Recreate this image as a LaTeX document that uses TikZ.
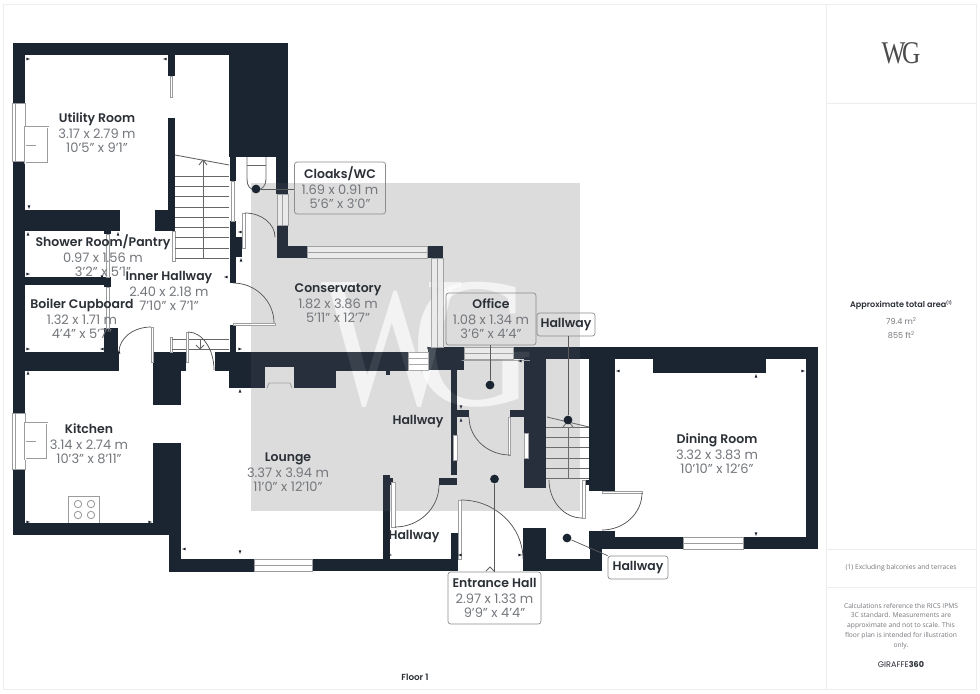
\documentclass[tikz,border=0pt]{standalone}
\usepackage{fontspec}
\setmainfont{Poppins}
\newfontfamily\namefont{Poppins SemiBold}
\newfontfamily\serifmark{Liberation Serif}
\newfontfamily\notefont{Open Sans}
\usetikzlibrary{calc}

\definecolor{walldark}{HTML}{1B2431}
\definecolor{namedark}{HTML}{2B2F36}
\definecolor{dimgrey}{HTML}{74777C}
\definecolor{fixgrey}{HTML}{9A9C9E}
\definecolor{framegrey}{HTML}{ECEDEF}
\definecolor{squaregrey}{HTML}{DBDBDB}

\tikzset{
	wall/.style = {fill = walldark},
	pane/.style = {draw = fixgrey, fill = white, line width = 0.4pt},
	shadedpane/.style = {pane, fill = squaregrey!60},
	fixture/.style = {draw = fixgrey, line width = 0.5pt},
	doorline/.style = {draw = black!70, line width = 0.4pt},
	roomlabel/.style = {align = center, text = dimgrey, font = \fontsize{7.4}{8.1}\selectfont, inner sep = 0pt},
	tagbox/.style = {roomlabel, draw = black!45, line width = 0.4pt, rounded corners = 1.5pt},
	leaddot/.style = {circle, fill = walldark, inner sep = 0pt, minimum size = 5pt},
	leader/.style = {draw = black!65, line width = 0.4pt},
	panelnote/.style = {align = center, text = dimgrey, font = \notefont\fontsize{3.8}{5.6}\selectfont, inner sep = 0pt},
	bigmark/.style = {white, font = \serifmark\fontsize{106}{106}\selectfont, inner sep = 0pt}
}
\newcommand{\roomname}[1]{{\color{namedark}\namefont\fontsize{7.1}{8.1}\selectfont #1}}
\newcommand{\swing}[3]{\draw[doorline] (#1) .. controls ($(#1)!.55!(#2)$) and ($(#3)!.55!(#2)$) .. (#3);}

\begin{document}
\begin{tikzpicture}[x = 0.02cm, y = -0.02cm]
	\useasboundingbox (0,0) rectangle (980,693);
	\fill [white] (0,0) rectangle (980,693);

	% sheet frame
	\draw [framegrey, line width = 0.5pt] (3,4) -- (976,4) -- (976,689) -- (3,689) -- cycle;
	\draw [framegrey, line width = 0.5pt] (826,4) -- (826,689);
	\draw [framegrey, line width = 0.5pt] (826,103) -- (976,103);
	\draw [framegrey, line width = 0.5pt] (826,549) -- (976,549);
	\draw [framegrey, line width = 0.5pt] (826,587) -- (976,587);

	% shaded square and watermark, under the walls
	\fill [squaregrey] (251,183) rectangle (580,511);
	\node [bigmark, opacity = 0.65] (markw) at (392,345) {\scalebox{0.8}[1]{W}};
	\node [bigmark, opacity = 0.65] (markg) at (473,345) {\scalebox{0.92}[1]{G}};

	% walls
	\foreach \xa/\ya/\xb/\yb in {12.5/43/288/55, 12.5/43/25/103, 12.5/161/25/413, 12.5/469/25/535,
		229/43/288/157, 276/157/288/194, 230/157/236/181, 277/225/288/258, 277/246/307/258, 427/246/443/258,
		25/210/120/231, 155/210/175/231, 168/118/175/231, 168/55/175/76, 104/231/111/234,
		25/277/110/285, 104/277/111/287, 104/328/118/352, 25/352/119/371,
		153/352/186/371, 153/371/181/405, 153/443/181/535, 25/523/181/535, 169/535/181/572, 169/559/254/572,
		312/559/458/571, 383/475/390/559, 390/478/393/485, 451/533/458/559,
		215/352/408/371, 229/371/336/388, 386/370/390/375,
		230/325/236/352, 230/221/236/283, 236/237/242/257,
		428/347/464/370, 451/370/457/475, 439/478/457/485,
		457/410/469/417, 510/410/524/417,
		513/347/818/359, 524/359/546/488, 589/359/615/491, 585/480/589/485, 653/359/766/373, 806/347/818/549,
		615/537/683/549, 743/537/818/549, 589/531/615/549, 590/531/602/571, 523/528/546/571, 546/559/602/571}
		\fill [wall] (\xa,\ya) rectangle (\xb,\yb);

	% windows and glazed panels
	\foreach \xa/\ya/\xb/\yb in {12.5/103/25/161, 12.5/413/25/469, 408/352/428/370, 254/559/312/571, 683/537/743/549,
		453/435/457/460, 524/433/528/458, 170/76/172/97, 106/234/109/277, 106/287/109/328, 231/181/234/221,
		172/231/175/261, 170/337/172/352}
		\draw [pane] (\xa,\ya) rectangle (\xb,\yb);
	\foreach \xa/\ya/\xb/\yb in {277/194/288/225, 307/246/427/258, 431/258/443/347, 464/347/513/359}
		\draw [shadedpane] (\xa,\ya) rectangle (\xb,\yb);
	\draw [fixture] (15.5,103) -- (15.5,161);
	\draw [fixture] (15.5,413) -- (15.5,469);
	\draw [fixture] (282.5,194) -- (282.5,225);
	\draw [fixture] (307,252) -- (427,252);
	\draw [fixture] (437,258) -- (437,347);
	\draw [fixture] (408,358) -- (428,358);
	\draw [fixture] (408,364) -- (428,364);
	\draw [fixture] (464,353) -- (513,353);
	\draw [fixture] (254,565) -- (312,565);
	\draw [fixture] (683,543) -- (743,543);
	\draw [fixture] (460,360) -- (530,360);

	% sinks and hob
	\draw [fixture, double, double distance = 0.5pt] (25,127) rectangle (48,163);
	\draw [fixture] (26,145) -- (36,145);
	\draw [fixture, double, double distance = 0.5pt] (25,423) rectangle (47,459);
	\draw [fixture] (26,441) -- (36,441);
	\draw [fixture] (68,523) -- (68,496) -- (99,496) -- (99,523);
	\foreach \x in {78,91}
		\foreach \y in {504,515}
			\draw [fixture] (\x,\y) circle [radius = 3.7];

	% fireplace
	\fill [squaregrey] (265,367) rectangle (294,388);
	\draw [fixture] (267,388) -- (269,383) -- (290,383) -- (292,388);

	% stairs
	\draw [fixture, black!60] (175,155) -- (229,165);
	\foreach \y in {176,186,196,207,217,227,237,248,258}
		\draw [fixture, black!60] (175,\y) -- (229,\y);
	\draw [fixture, black!60] (203,160) -- (203,258);
	\draw [fixture, black!60] (199,165) -- (203,160) -- (207,165);
	\draw [fixture, black!60] (547,417) -- (589,427);
	\foreach \y in {427,437,447,458,468,478}
		\draw [fixture, black!60] (546,\y) -- (589,\y);
	\draw [fixture, black!60] (568,427) -- (568,478);
	\draw [fixture, black!60] (563,427) -- (568,421) -- (573,427);

	% short flight by the kitchen door
	\draw [fixture, black!60] (172,339) -- (229,339);
	\draw [fixture, black!60] (172,349) -- (229,349);
	\draw [fixture, black!60] (200,339) -- (200,349);
	\draw [fixture, black!60] (196,345) -- (200,349) -- (204,345);

	% toilet
	\draw [fixture, black!60] (247,157) -- (247,179) .. controls (247,186) and (250,190) .. (256,190) .. controls (262,190) and (266,186) .. (266,179) -- (266,157);
	\draw [fixture, black!60] (247,165) -- (266,165);

	% doors
	\foreach \xa/\ya/\xb/\yb in {242/213/245/248, 233/323/275/325, 151/327/153/362, 186/332/188/362, 391/482/395/527,
		508/417/510/455, 458/500/461/559, 582/480/585/518, 602/491/642/493}
		\draw [pane] (\xa,\ya) rectangle (\xb,\yb);
	\swing{245,213}{275,213}{275,237}
	\swing{233,283}{274,283}{274,323}
	\swing{151,327}{119,327}{119,352}
	\swing{188,332}{214,332}{214,370}
	\swing{395,527}{439,527}{439,485}
	\swing{510,455}{469,455}{469,417}
	\swing{461,500}{523,500}{523,559}
	\swing{582,518}{549,518}{549,480}
	\swing{642,493}{642,530}{602,530}

	% dimension ticks
	\foreach \x/\y/\a in {28/59/0, 165/59/180, 29/207/90, 28/234/270, 118/234/270, 28/274/0, 102/277/90, 226/277/180,
		240/232/180, 241/260/270, 28/349/0, 102/349/180, 28/373/270, 240/349/0, 240/391/270, 28/522/0, 150/522/0,
		184/549/180, 240/552/90, 429/348/0, 461/361/0, 520/361/180, 461/407/90, 461/420/270, 460/555/180, 520/555/0,
		618/371/180, 803/371/0, 756/376/270, 756/534/90, 119/352/270, 390/555/0}
		\fill [walldark] ([shift = {(\a:2)}]\x,\y) -- ([shift = {(\a+140:2)}]\x,\y) -- ([shift = {(\a+220:2)}]\x,\y) -- cycle;
	\draw [fixture, black!60] (486,571) -- (490,567) -- (494,571);

	% faint veil and watermark over the walls
	\fill [white, opacity = 0.05] (251,183) rectangle (580,511);
	\node [bigmark, opacity = 0.09] (veilw) at (392,345) {\scalebox{0.8}[1]{W}};
	\node [bigmark, opacity = 0.09] (veilg) at (473,345) {\scalebox{0.92}[1]{G}};

	% room labels
	\node [roomlabel] (utility) at (97,133) {\roomname{Utility Room}\\[1pt]3.17 x 2.79 m\\10'5" x 9'1"};
	\node [roomlabel] (shower) at (103,256) {\roomname{Shower Room/Pantry}\\[1pt]0.97 x 1.56 m\\3'2" x 5'1"};
	\node [roomlabel] (innerhall) at (169,291) {\roomname{Inner Hallway}\\[1pt]2.40 x 2.18 m\\7'10" x 7'1"};
	\node [roomlabel] (boiler) at (82,318.5) {\roomname{Boiler Cupboard}\\[1pt]1.32 x 1.71 m\\4'4" x 5'7"};
	\node [roomlabel] (kitchen) at (89,443.5) {\roomname{Kitchen}\\[1pt]3.14 x 2.74 m\\10'3" x 8'11"};
	\node [roomlabel] (lounge) at (288,472) {\roomname{Lounge}\\[1pt]3.37 x 3.94 m\\11'0" x 12'10"};
	\node [roomlabel] (conservatory) at (338,303) {\roomname{Conservatory}\\[1pt]1.82 x 3.86 m\\5'11" x 12'7"};
	\node [roomlabel] (dining) at (717,454) {\roomname{Dining Room}\\[1pt]3.32 x 3.83 m\\10'10" x 12'6"};
	\node [roomlabel] (hallwayl) at (418,422) {\roomname{Hallway}};
	\node [roomlabel] (hallwayb) at (414,536.5) {\roomname{Hallway}};

	% tagged labels and their leaders
	\node [tagbox, minimum width = 91*0.02cm, minimum height = 52*0.02cm] (cloaks) at (340,188) {\roomname{Cloaks/WC}\\[1pt]1.69 x 0.91 m\\5'6" x 3'0"};
	\node [tagbox, minimum width = 90*0.02cm, minimum height = 52*0.02cm] (office) at (491,319) {\roomname{Office}\\[1pt]1.08 x 1.34 m\\3'6" x 4'4"};
	\node [tagbox, minimum width = 58*0.02cm, minimum height = 23*0.02cm] (hallwayt) at (566,324.5) {\roomname{Hallway}};
	\node [tagbox, minimum width = 93*0.02cm, minimum height = 52*0.02cm] (entrance) at (494.5,598) {\roomname{Entrance Hall}\\[1pt]2.97 x 1.33 m\\9'9" x 4'4"};
	\node [tagbox, minimum width = 60*0.02cm, minimum height = 23*0.02cm] (hallwayr) at (638,567.5) {\roomname{Hallway}};

	\node [leaddot] (cloaksdot) at (256,189) {};
	\node [leaddot] (officedot) at (490,385) {};
	\node [leaddot] (stairdot) at (568,420) {};
	\node [leaddot] (entrancedot) at (494.5,479) {};
	\node [leaddot] (lobbydot) at (567,538) {};
	\draw [leader] (cloaksdot) -- (cloaks.west |- cloaksdot);
	\draw [leader] (officedot) -- (office.south -| officedot);
	\draw [leader] (stairdot) -- (hallwayt.south -| stairdot);
	\draw [leader] (entrancedot) -- (entrance.north);
	\draw [leader] (lobbydot) -- (hallwayr.north west);

	% side panel
	\node [text = black!70, font = \serifmark\fontsize{18}{18}\selectfont, inner sep = 0pt] (logo) at (901,53) {\scalebox{0.8}[1]{W\kern-0.14em G}};
	\node [panelnote, text = namedark, font = \namefont\fontsize{4.6}{6}\selectfont] (areatitle) at (901,305) {Approximate total area\raisebox{1.5pt}{\fontsize{2.4}{3}\selectfont(1)}};
	\node [panelnote, font = \fontsize{4.6}{6}\selectfont] (areametric) at (901,321) {79.4 m\raisebox{1.5pt}{\fontsize{3}{3}\selectfont 2}};
	\node [panelnote, font = \fontsize{4.6}{6}\selectfont] (areaimperial) at (901,335) {855 ft\raisebox{1.5pt}{\fontsize{3}{3}\selectfont 2}};
	\node [panelnote] (excluding) at (901,568) {(1) Excluding balconies and terraces};
	\node [panelnote] (calculations) at (901,626) {Calculations reference the RICS IPMS\\3C standard. Measurements are\\approximate and not to scale. This\\floor plan is intended for illustration\\only.};
	\node [panelnote, text = namedark, font = \fontsize{4.6}{6}\selectfont] (giraffe) at (901,664) {GIRAFFE\textbf{360}};
	\node [text = namedark, font = \namefont\fontsize{5}{6}\selectfont, inner sep = 0pt] (floor) at (415,677) {Floor 1};
\end{tikzpicture}
\end{document}
